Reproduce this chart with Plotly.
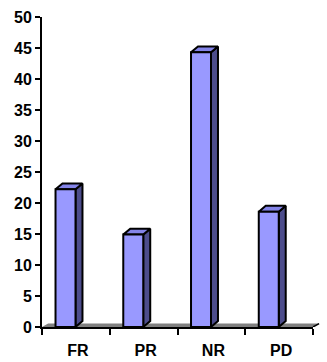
import plotly.graph_objects as go

categories = ["FR", "PR", "NR", "PD"]
values = [22.2, 14.9, 44.3, 18.6]
y_ticks = [0, 5, 10, 15, 20, 25, 30, 35, 40, 45, 50]

FRONT = "#9999FF"
SIDE = "#4D4D8C"
TOP = "#8484E8"
FLOOR = "#808080"

offset = -0.153   # front face shift from category centre (3D perspective)
bw = 0.295        # front face width
dx, dy = 0.103, 0.95     # bar depth
fdx, fdy = 0.09, 0.55    # floor depth
n = len(categories)

fig = go.Figure()

# floor
fx0, fx1 = -0.5, n - 0.5
fig.add_trace(go.Scatter(
    x=[fx0, fx1, fx1 + fdx, fx0 + fdx, fx0], y=[0, 0, fdy, fdy, 0],
    fill="toself", fillcolor=FLOOR, mode="lines", line=dict(width=0),
    hoverinfo="skip", showlegend=False))
fig.add_trace(go.Scatter(
    x=[fx1, fx1 + fdx], y=[0, fdy], mode="lines",
    line=dict(color="black", width=1.5), hoverinfo="skip", showlegend=False))

for i, v in enumerate(values):
    c = i + offset
    x0, x1 = c - bw / 2, c + bw / 2
    # side face
    fig.add_trace(go.Scatter(
        x=[x1, x1 + dx, x1 + dx, x1, x1], y=[0, dy, v + dy, v, 0],
        fill="toself", fillcolor=SIDE, mode="lines",
        line=dict(color="black", width=2), hoverinfo="skip", showlegend=False))
    # top face
    fig.add_trace(go.Scatter(
        x=[x0, x0 + dx, x1 + dx, x1, x0], y=[v, v + dy, v + dy, v, v],
        fill="toself", fillcolor=TOP, mode="lines",
        line=dict(color="black", width=2), hoverinfo="skip", showlegend=False))
    # front face
    fig.add_trace(go.Scatter(
        x=[x0, x1, x1, x0, x0], y=[0, 0, v, v, 0],
        fill="toself", fillcolor=FRONT, mode="lines",
        line=dict(color="black", width=2), hoverinfo="skip", showlegend=False))

# dummy trace for the visible category axis
fig.add_trace(go.Scatter(x=list(range(n)), y=[0] * n, xaxis="x2", yaxis="y",
                         mode="markers", marker=dict(opacity=0),
                         hoverinfo="skip", showlegend=False))

plot_w = 280
axis_w = 271
fig.update_layout(
    width=327, height=362,
    margin=dict(l=42, r=327 - 42 - plot_w, t=17, b=35),
    paper_bgcolor="white", plot_bgcolor="rgba(0,0,0,0)",
    font=dict(family="Liberation Sans, Arial", size=16, color="black"),
    xaxis=dict(range=[-0.5, n - 0.5 + 9 / 67.75], visible=False,
               showgrid=False, zeroline=False, domain=[0, 1], automargin=False),
    xaxis2=dict(range=[-0.5, n - 0.5], domain=[0, axis_w / plot_w], anchor="y",
                showline=True, linecolor="black", linewidth=2,
                showgrid=False, zeroline=False, automargin=False,
                tickmode="array", tickvals=[i + 0.03 for i in range(n)],
                ticktext=["<b>%s</b>" % c for c in categories],
                ticks="", ticklabelstandoff=8,
                tickfont=dict(size=16),
                minor=dict(tickmode="array",
                           tickvals=[i - 0.5 for i in range(n + 1)],
                           ticks="outside", ticklen=6, tickwidth=2,
                           tickcolor="black")),
    yaxis=dict(range=[0, 50], showline=True, linecolor="black", linewidth=2,
               showgrid=False, zeroline=False, automargin=False,
               tickmode="array", tickvals=y_ticks,
               ticktext=["<b>%d</b>" % t for t in y_ticks],
               ticks="outside", ticklen=5, tickwidth=2, tickcolor="black",
               tickfont=dict(size=16), anchor="x"),
)

fig.write_html("out.html")
